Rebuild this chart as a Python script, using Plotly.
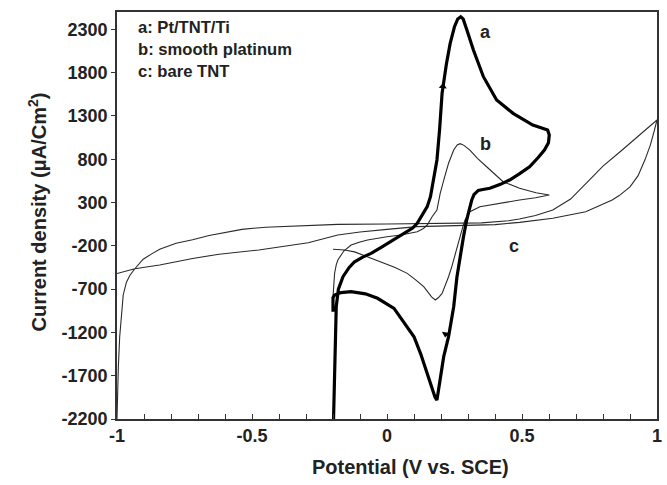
import plotly.graph_objects as go

# Cyclic voltammograms: potential (V vs. SCE) and current density (uA/cm^2)

# a: Pt/TNT/Ti (thick)
pot_a = [-0.198, -0.195, -0.191, -0.188, -0.18, -0.163, -0.14, -0.12, -0.09, -0.059,
         -0.02, 0.014, 0.045, 0.075, 0.095, 0.112, 0.13, 0.149, 0.161, 0.175,
         0.185, 0.195, 0.204, 0.22, 0.234, 0.25, 0.262, 0.273, 0.282, 0.295,
         0.32, 0.357, 0.406, 0.467, 0.54, 0.595, 0.601, 0.598, 0.583, 0.56,
         0.528, 0.49, 0.454, 0.42, 0.381, 0.355, 0.338, 0.322, 0.314, 0.305,
         0.295, 0.283, 0.271, 0.259, 0.247, 0.228, 0.21, 0.198, 0.19, 0.185,
         0.178, 0.165, 0.149, 0.125, 0.1, 0.06, 0.026, -0.035, -0.08, -0.133,
         -0.17, -0.194, -0.2, -0.2]
cur_a = [-2200, -1700, -1300, -903, -700, -557, -450, -384, -330, -287,
         -215, -153, -95, -37, 5, 60, 150, 252, 367, 600,
         791, 1150, 1561, 1900, 2138, 2330, 2420, 2445, 2420, 2300,
         2061, 1753, 1484, 1330, 1195, 1137, 1080, 990, 906, 820,
         713, 630, 560, 510, 464, 450, 440, 390, 329, 220,
         98, -100, -326, -560, -903, -1250, -1480, -1750, -1920, -1981,
         -1950, -1830, -1672, -1450, -1250, -1070, -922, -806, -755, -730,
         -740, -768, -800, -961]

# b: smooth platinum (thin)
pot_b = [-0.2, -0.197, -0.194, -0.188, -0.182, -0.16, -0.133, -0.1, -0.072, 0.0,
         0.051, 0.112, 0.135, 0.149, 0.167, 0.185, 0.197, 0.213, 0.228, 0.247,
         0.26, 0.271, 0.285, 0.307, 0.335, 0.369, 0.4, 0.43, 0.491, 0.552,
         0.601, 0.55, 0.491, 0.43, 0.369, 0.344, 0.307, 0.289, 0.281, 0.272,
         0.262, 0.252, 0.24, 0.228, 0.215, 0.204, 0.19, 0.179, 0.165, 0.136,
         0.105, 0.075, 0.03, -0.01, -0.05, -0.084, -0.12, -0.157, -0.2]
cur_b = [-790, -650, -517, -420, -364, -260, -191, -155, -133, -95,
         -75, -37, 0, 40, 136, 213, 406, 590, 753, 906,
         965, 980, 960, 906, 810, 713, 620, 540, 464, 413,
         387, 355, 329, 295, 262, 252, 194, 98, 21, -80,
         -200, -326, -440, -557, -670, -749, -800, -826, -790, -672,
         -590, -518, -450, -402, -350, -306, -270, -248, -240]

# c: bare TNT (thin)
pot_c = [-1.0, -0.998, -0.995, -0.99, -0.983, -0.977, -0.965, -0.952, -0.934, -0.903,
         -0.87, -0.842, -0.781, -0.72, -0.659, -0.6, -0.537, -0.45, -0.35, -0.182,
         0.0, 0.2, 0.35, 0.45, 0.49, 0.55, 0.614, 0.68, 0.736, 0.8,
         0.871, 0.93, 0.97, 1.0, 0.99, 0.975, 0.955, 0.93, 0.9, 0.86, 0.834,
         0.736, 0.614, 0.491, 0.4, 0.25, 0.112, 0.0, -0.1, -0.182, -0.292,
         -0.475, -0.622, -0.72, -0.842, -0.934, -1.0]
cur_c = [-2200, -1900, -1600, -1250, -941, -768, -620, -540, -465, -355,
         -290, -240, -170, -130, -80, -45, -10, 15, 30, 48,
         52, 55, 65, 90, 110, 150, 213, 340, 522, 720,
         906, 1070, 1180, 1253, 1130, 960, 790, 610, 480, 380, 329,
         194, 118, 71, 45, 32, 21, -10, -40, -75, -164,
         -248, -297, -347, -422, -465, -520]

# curve letters placed beside each voltammogram
curve_tags = ["a", "b", "c"]
tag_pot = [0.364, 0.365, 0.472]
tag_cur = [2269, 976, -202]

legend_lines = ["a: Pt/TNT/Ti", "b: smooth platinum", "c: bare TNT"]

y_ticks = [-2200, -1700, -1200, -700, -200, 300, 800, 1300, 1800, 2300]
y_tick_text = ["-2200", "-1700", "-1200", "-700", "-200", "300", "800", "1300", "1800", "2300"]
x_ticks = [-1, -0.5, 0, 0.5, 1]
x_tick_text = ["-1", "-0.5", "0", "0.5", "1"]

# scan direction arrowheads on curve a (anodic going up, cathodic going down)
arrow_pot = [0.207, 0.217]
arrow_cur = [1640, -1220]
arrow_symbols = ["triangle-up", "triangle-down"]
arrow_angles = [5, 8]

FONT = "Liberation Sans, Arial, sans-serif"

fig = go.Figure()
fig.add_trace(go.Scatter(x=pot_c, y=cur_c, mode="lines",
                         line=dict(color="#2a2a2a", width=1.1), hoverinfo="skip"))
fig.add_trace(go.Scatter(x=pot_b, y=cur_b, mode="lines",
                         line=dict(color="#2a2a2a", width=1.1), hoverinfo="skip"))
fig.add_trace(go.Scatter(x=pot_a, y=cur_a, mode="lines",
                         line=dict(color="#000000", width=3.2), hoverinfo="skip"))
fig.add_trace(go.Scatter(x=arrow_pot, y=arrow_cur, mode="markers",
                         marker=dict(symbol=arrow_symbols, angle=arrow_angles, size=7,
                                     color="#000", line=dict(width=0)),
                         hoverinfo="skip"))

annotations = []
for t, xv, yv in zip(curve_tags, tag_pot, tag_cur):
    annotations.append(dict(x=xv, y=yv, text=t, showarrow=False,
                            font=dict(family=FONT, size=18, color="#222", weight="bold")))
for i, line in enumerate(legend_lines):
    annotations.append(dict(x=0.035, y=0.961 - i * 0.054, xref="paper", yref="paper",
                            text=line, showarrow=False, xanchor="left", yanchor="middle",
                            font=dict(family=FONT, size=16.6, color="#222", weight="bold")))

# axis titles
annotations.append(dict(x=0.543, y=-0.118, xref="paper", yref="paper",
                        text="Potential (V vs. SCE)", showarrow=False,
                        xanchor="center", yanchor="middle",
                        font=dict(family=FONT, size=20, color="#222", weight="bold")))
annotations.append(dict(x=-0.147, y=0.509, xref="paper", yref="paper",
                        text="Current density (μA/Cm<sup>2</sup>)", showarrow=False,
                        textangle=-90, xanchor="center", yanchor="middle",
                        font=dict(family=FONT, size=20, color="#222", weight="bold")))

fig.update_layout(
    width=667, height=485,
    margin=dict(l=117, r=5, t=12, b=66),
    paper_bgcolor="white", plot_bgcolor="white",
    showlegend=False,
    annotations=annotations,
    xaxis=dict(range=[-1, 1], tickvals=x_ticks, ticktext=x_tick_text,
               ticks="inside", ticklen=5, tickwidth=1.2, tickcolor="#333",
               minor=dict(dtick=0.1, tick0=0, ticks="inside", ticklen=5,
                          tickwidth=1.2, tickcolor="#333"),
               showline=True, linecolor="#333", linewidth=1.6, mirror=True,
               showgrid=False, zeroline=False,
               tickfont=dict(family=FONT, size=18, color="#222", weight="bold")),
    yaxis=dict(range=[-2200, 2500], tickvals=y_ticks, ticktext=y_tick_text,
               ticks="outside", ticklen=4, tickwidth=1.2, tickcolor="#333",
               showline=True, linecolor="#333", linewidth=1.6, mirror=True,
               showgrid=False, zeroline=False,
               tickfont=dict(family=FONT, size=18, color="#222", weight="bold")),
)

fig.write_html("out.html")
